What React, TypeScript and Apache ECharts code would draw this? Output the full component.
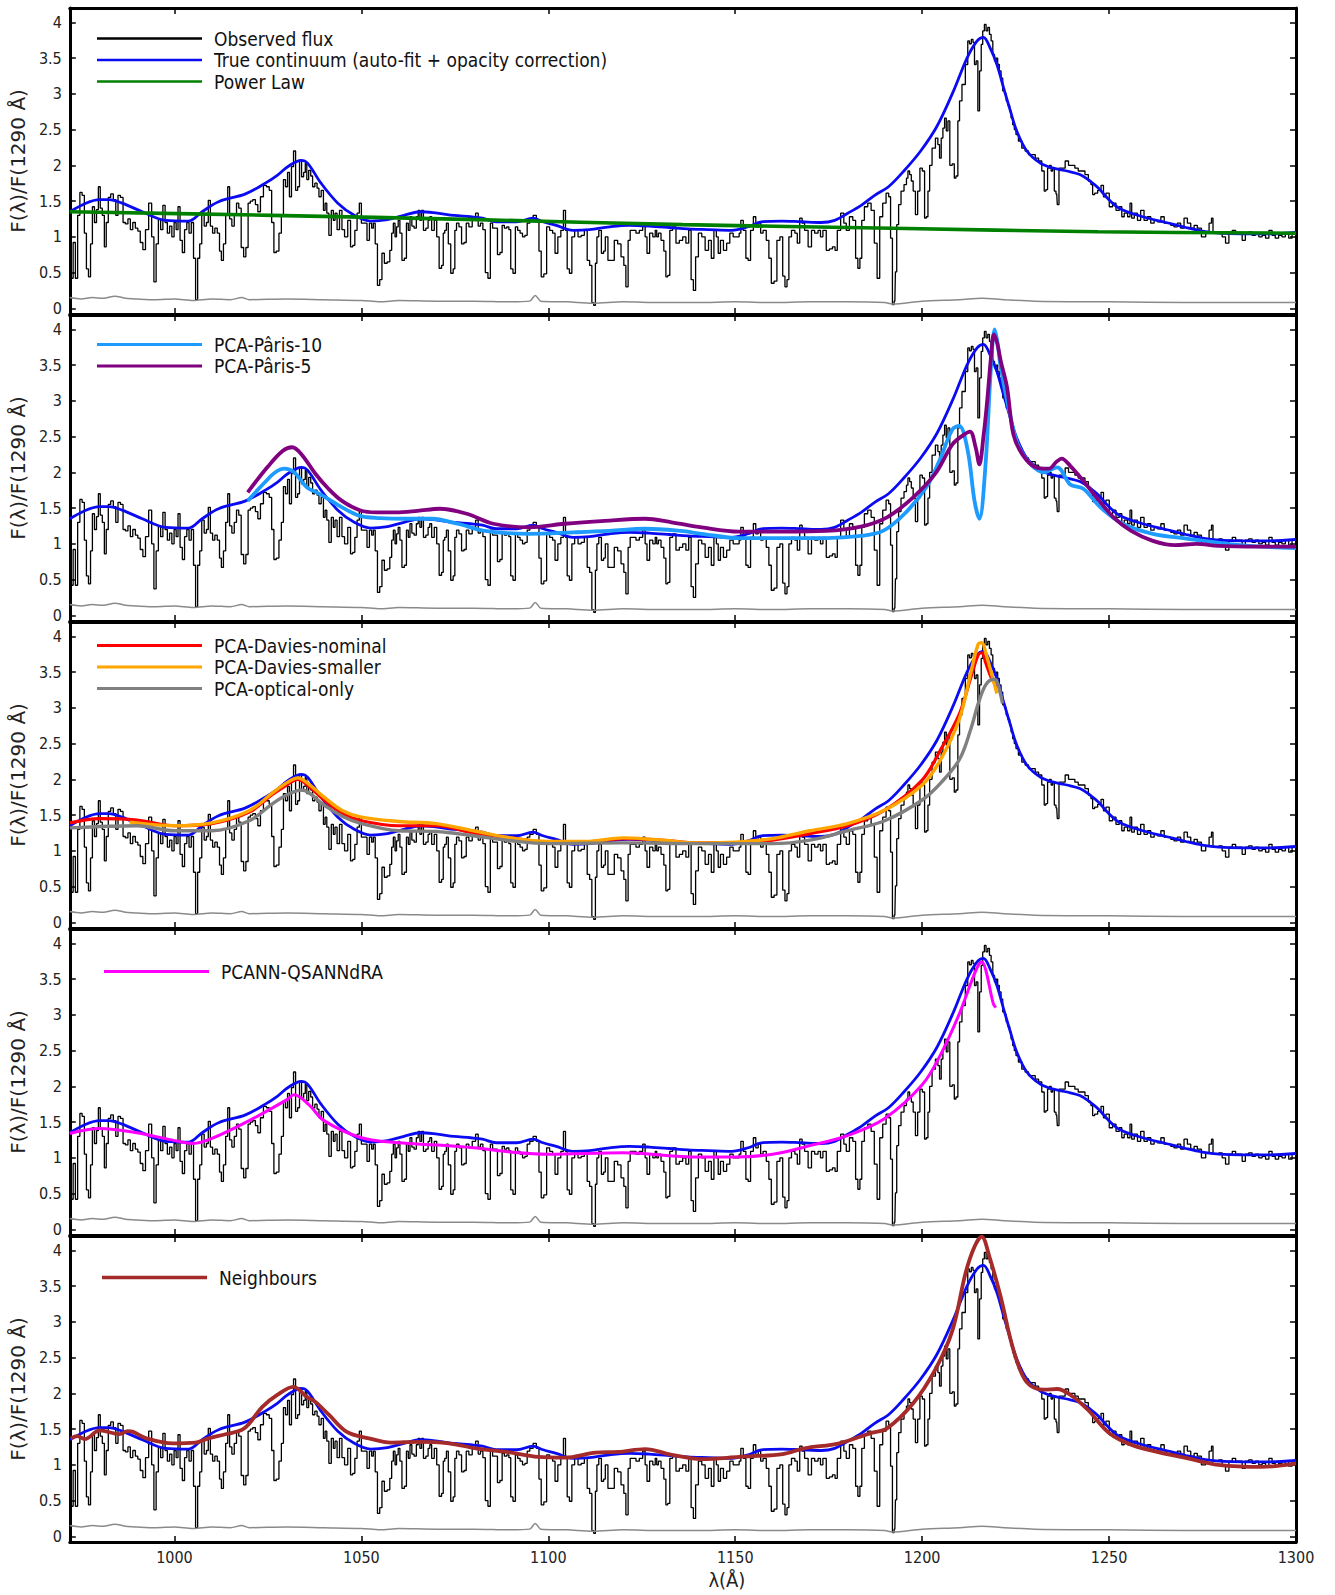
import React, { useEffect, useRef } from "react";
import * as echarts from "echarts";

// ---------- axis settings ----------
const X_MIN = 972;
const X_MAX = 1300;
const X_TICKS = [1000, 1050, 1100, 1150, 1200, 1250, 1300];
const Y_MIN = -0.08;
const Y_MAX = 4.2;
const Y_TICKS = [0, 0.5, 1, 1.5, 2, 2.5, 3, 3.5, 4];
const Y_TITLE = "F(λ)/F(1290 Å)";
const X_TITLE = "λ(Å)";

// ---------- data: [wavelength (Å), normalised flux] ----------
const observedFlux: [number, number][] = [
  [972.0, 0.82], [972.6, 0.42], [973.2, 0.92], [973.8, 0.42], [974.4, 1.3], [975.0, 1.62], [975.6, 1.58], [976.2, 1.05],
  [976.7, 0.55], [977.3, 0.44], [977.8, 0.9], [978.3, 1.42], [978.9, 1.2], [979.4, 1.38], [979.9, 1.7], [980.4, 1.4],
  [981.0, 1.3], [981.5, 0.86], [982.0, 1.2], [982.6, 1.55], [983.3, 1.6], [984.0, 1.52], [984.6, 1.3], [985.2, 1.58],
  [985.9, 1.55], [986.6, 1.2], [987.2, 1.18], [987.9, 1.25], [988.5, 1.1], [989.2, 1.2], [989.9, 1.12], [990.5, 1.08],
  [991.2, 0.92], [991.9, 0.82], [992.6, 1.1], [993.6, 1.47], [994.2, 1.0], [994.8, 0.37], [995.4, 0.9], [996.0, 1.25],
  [996.6, 1.1], [997.2, 1.44], [997.8, 1.2], [998.4, 1.05], [999.0, 1.15], [999.6, 1.0], [1000.2, 1.2], [1000.7, 1.1],
  [1001.2, 1.42], [1001.8, 0.95], [1002.4, 0.78], [1003.0, 1.1], [1003.6, 1.2], [1004.2, 1.05], [1004.8, 1.2], [1005.4, 0.7],
  [1005.9, 0.12], [1006.5, 0.7], [1007.0, 0.9], [1007.6, 1.33], [1008.3, 1.15], [1008.8, 1.2], [1009.3, 1.51], [1009.9, 1.15],
  [1010.5, 1.05], [1011.1, 1.12], [1011.8, 1.05], [1012.3, 0.8], [1012.8, 0.67], [1013.4, 0.9], [1014.0, 1.3], [1014.5, 1.7],
  [1015.0, 1.25], [1015.7, 1.15], [1016.3, 1.3], [1016.9, 1.47], [1017.5, 1.4], [1018.2, 0.85], [1018.8, 0.72], [1019.4, 0.85],
  [1020.0, 1.47], [1020.6, 1.5], [1021.3, 1.52], [1022.0, 1.45], [1022.6, 1.35], [1023.4, 1.56], [1024.2, 1.72], [1025.0, 1.7],
  [1025.7, 1.65], [1026.3, 1.2], [1026.9, 0.78], [1027.6, 0.8], [1028.3, 1.05], [1028.9, 1.3], [1029.4, 1.8], [1030.0, 1.7],
  [1030.5, 1.9], [1031.0, 1.56], [1031.6, 1.98], [1032.1, 2.2], [1032.7, 1.65], [1033.2, 1.7], [1033.7, 2.07], [1034.3, 1.84],
  [1034.8, 1.9], [1035.2, 2.03], [1035.6, 1.8], [1036.2, 1.93], [1036.7, 1.85], [1037.2, 1.7], [1037.9, 1.75], [1038.4, 1.68],
  [1038.9, 1.56], [1039.6, 1.65], [1040.1, 1.37], [1040.5, 1.47], [1041.0, 1.33], [1041.6, 1.02], [1042.3, 1.37], [1042.7, 1.23],
  [1043.2, 1.33], [1043.8, 1.1], [1044.5, 1.37], [1045.1, 1.1], [1045.9, 1.0], [1046.8, 1.23], [1047.4, 0.86], [1048.0, 0.88],
  [1048.5, 1.09], [1049.2, 1.33], [1049.7, 1.47], [1050.3, 1.19], [1051.2, 1.19], [1051.8, 0.95], [1052.5, 1.19], [1053.0, 1.12],
  [1053.4, 1.19], [1054.0, 0.9], [1054.6, 0.32], [1055.2, 0.4], [1055.8, 0.77], [1056.5, 0.63], [1057.3, 0.65], [1057.9, 0.81],
  [1058.3, 1.05], [1058.8, 1.19], [1059.2, 1.0], [1059.6, 1.14], [1060.1, 1.23], [1060.5, 1.05], [1061.2, 0.67], [1061.8, 0.7],
  [1062.3, 1.19], [1062.8, 1.09], [1063.2, 1.28], [1063.8, 1.15], [1064.4, 1.12], [1065.0, 1.28], [1065.4, 1.37], [1065.9, 1.23],
  [1066.3, 1.37], [1066.9, 1.09], [1067.6, 1.12], [1068.1, 1.23], [1068.5, 1.28], [1069.1, 1.09], [1069.9, 1.23], [1070.4, 1.0],
  [1071.2, 0.56], [1071.7, 0.6], [1072.1, 1.05], [1072.5, 1.09], [1073.0, 1.19], [1073.5, 0.9], [1074.3, 0.49], [1074.8, 0.55],
  [1075.2, 1.09], [1075.7, 1.19], [1076.5, 1.14], [1077.1, 0.9], [1077.8, 0.92], [1078.3, 1.19], [1079.2, 1.14], [1080.1, 1.23],
  [1081.0, 1.33], [1081.5, 1.15], [1082.2, 1.19], [1082.8, 1.1], [1083.5, 0.5], [1084.2, 0.42], [1084.8, 1.19], [1085.4, 1.12],
  [1086.1, 1.12], [1086.7, 0.75], [1087.4, 0.78], [1087.9, 1.16], [1088.6, 1.12], [1089.2, 1.14], [1089.7, 1.1], [1090.2, 0.55],
  [1090.9, 0.49], [1091.5, 1.14], [1092.1, 1.09], [1092.8, 1.05], [1093.4, 1.0], [1094.1, 1.02], [1094.6, 1.19], [1095.5, 1.23],
  [1096.4, 1.3], [1097.2, 1.23], [1097.8, 0.8], [1098.4, 0.44], [1099.2, 0.48], [1099.9, 1.14], [1100.8, 1.09], [1101.5, 1.05],
  [1102.1, 0.77], [1103.0, 1.0], [1103.7, 1.09], [1104.4, 1.37], [1104.8, 1.09], [1105.3, 0.55], [1106.0, 0.49], [1106.6, 1.0],
  [1107.5, 1.09], [1108.4, 1.0], [1109.2, 1.02], [1110.1, 1.09], [1110.7, 0.67], [1111.4, 0.6], [1111.9, 0.08], [1112.4, 0.04],
  [1112.8, 0.63], [1113.2, 1.0], [1113.8, 1.09], [1114.6, 0.77], [1115.0, 0.8], [1115.5, 1.0], [1116.4, 0.67], [1117.2, 0.67],
  [1118.1, 0.95], [1119.0, 0.9], [1119.9, 0.72], [1120.5, 0.6], [1121.0, 0.3], [1121.7, 0.95], [1122.1, 1.09], [1123.0, 1.09],
  [1123.9, 1.05], [1124.8, 1.09], [1125.7, 1.19], [1126.1, 1.0], [1126.7, 0.77], [1127.5, 1.05], [1128.4, 1.0], [1128.8, 1.09],
  [1129.2, 1.0], [1129.7, 1.05], [1130.6, 0.95], [1131.2, 0.8], [1131.7, 0.44], [1132.2, 0.46], [1132.8, 1.09], [1133.7, 1.14],
  [1134.6, 0.91], [1135.5, 0.95], [1136.4, 1.0], [1137.2, 0.91], [1137.9, 1.09], [1138.5, 0.4], [1139.1, 0.25], [1139.7, 0.72],
  [1140.6, 1.05], [1141.5, 1.0], [1142.4, 0.81], [1143.3, 0.95], [1143.9, 0.7], [1144.7, 1.09], [1145.2, 1.0], [1145.7, 0.77],
  [1146.4, 0.95], [1147.3, 0.81], [1148.1, 0.91], [1149.0, 1.05], [1149.9, 1.0], [1150.8, 1.0], [1151.3, 1.05], [1151.7, 1.23],
  [1152.6, 1.09], [1153.1, 0.7], [1153.8, 0.67], [1154.4, 1.09], [1155.3, 1.28], [1155.7, 1.14], [1156.6, 1.19], [1157.0, 1.05],
  [1157.9, 1.09], [1158.7, 0.95], [1159.3, 0.7], [1160.0, 0.35], [1160.8, 0.38], [1161.5, 0.95], [1162.4, 1.0], [1163.0, 0.45],
  [1163.6, 0.3], [1164.1, 0.4], [1164.6, 1.0], [1165.5, 1.09], [1166.4, 1.05], [1166.8, 0.91], [1167.7, 1.26], [1168.1, 1.19],
  [1169.0, 1.09], [1170.0, 0.86], [1170.8, 1.09], [1171.7, 1.05], [1172.6, 1.09], [1173.0, 1.0], [1173.9, 1.09], [1174.8, 0.81],
  [1175.6, 0.83], [1176.4, 0.86], [1177.0, 0.81], [1177.6, 1.09], [1178.8, 1.33], [1179.3, 1.19], [1180.1, 1.09], [1181.0, 1.28],
  [1181.9, 1.23], [1182.5, 0.7], [1183.1, 0.56], [1183.6, 0.7], [1184.1, 1.23], [1185.0, 1.42], [1185.9, 1.47], [1186.8, 1.37],
  [1187.6, 0.91], [1188.3, 0.42], [1189.0, 1.28], [1189.9, 1.47], [1190.8, 1.61], [1191.3, 1.56], [1191.8, 0.98], [1192.3, 0.05],
  [1192.7, 0.1], [1193.0, 0.51], [1193.4, 1.17], [1194.0, 1.45], [1194.7, 1.64], [1195.6, 1.73], [1196.0, 1.82], [1196.4, 1.92],
  [1196.9, 1.87], [1197.3, 1.78], [1197.9, 1.64], [1198.5, 1.31], [1199.1, 1.64], [1199.7, 1.96], [1200.4, 1.92], [1200.9, 1.26],
  [1201.3, 1.28], [1201.8, 1.64], [1202.2, 2.0], [1203.1, 2.24], [1204.0, 2.38], [1204.4, 2.29], [1204.9, 2.1], [1205.3, 2.38],
  [1205.8, 2.52], [1206.2, 2.66], [1206.7, 2.48], [1207.1, 2.62], [1207.7, 2.0], [1208.4, 2.02], [1208.8, 1.82], [1209.3, 1.85],
  [1209.8, 2.62], [1210.2, 2.9], [1211.1, 3.13], [1212.0, 3.41], [1212.4, 3.74], [1212.9, 3.7], [1213.4, 3.76], [1213.8, 3.72],
  [1214.2, 3.41], [1214.7, 3.46], [1215.1, 2.76], [1215.6, 3.32], [1216.0, 3.69], [1216.4, 3.88], [1216.9, 3.97], [1217.3, 3.88],
  [1217.8, 3.93], [1218.2, 3.83], [1218.7, 3.74], [1219.1, 3.55], [1219.6, 3.46], [1220.0, 3.5], [1220.4, 3.41], [1220.9, 3.32],
  [1221.3, 3.22], [1221.8, 3.04], [1222.3, 3.0], [1222.7, 2.9], [1223.2, 2.84], [1223.6, 2.76], [1224.0, 2.66], [1224.4, 2.57],
  [1224.9, 2.5], [1225.3, 2.43], [1226.2, 2.34], [1227.1, 2.24], [1228.0, 2.2], [1228.9, 2.15], [1229.8, 2.15], [1230.7, 2.1],
  [1231.6, 2.06], [1232.4, 1.92], [1232.9, 1.64], [1233.3, 1.66], [1233.8, 1.96], [1234.3, 2.0], [1234.7, 1.92], [1235.1, 1.96],
  [1235.6, 1.64], [1236.0, 1.6], [1236.3, 1.45], [1236.9, 1.96], [1237.8, 1.96], [1238.7, 2.06], [1239.6, 2.0], [1240.4, 2.0],
  [1241.3, 1.96], [1242.2, 1.92], [1243.1, 1.92], [1244.0, 1.87], [1244.9, 1.78], [1245.4, 1.73], [1245.8, 1.59], [1246.5, 1.61],
  [1247.4, 1.65], [1248.3, 1.72], [1248.7, 1.56], [1249.6, 1.61], [1250.5, 1.42], [1251.4, 1.47], [1252.3, 1.37], [1253.2, 1.42],
  [1253.6, 1.28], [1254.5, 1.33], [1255.4, 1.28], [1255.8, 1.47], [1256.3, 1.26], [1257.2, 1.33], [1258.0, 1.23], [1258.9, 1.37],
  [1259.8, 1.23], [1260.7, 1.28], [1261.6, 1.19], [1262.5, 1.23], [1263.4, 1.21], [1264.3, 1.28], [1265.2, 1.19], [1266.1, 1.19],
  [1266.9, 1.16], [1267.8, 1.14], [1268.7, 1.19], [1269.6, 1.12], [1270.5, 1.26], [1271.4, 1.19], [1272.3, 1.12], [1273.2, 1.16],
  [1274.0, 1.12], [1275.4, 1.0], [1276.3, 1.07], [1277.2, 1.19], [1277.6, 1.26], [1278.0, 1.05], [1278.9, 1.05], [1279.8, 1.07],
  [1280.7, 1.0], [1281.6, 0.91], [1282.5, 1.05], [1283.4, 1.09], [1284.3, 1.05], [1285.2, 1.05], [1286.0, 0.95], [1286.9, 1.05],
  [1287.8, 1.07], [1288.7, 1.02], [1289.6, 1.05], [1290.5, 1.0], [1291.4, 1.02], [1292.3, 0.98], [1293.2, 1.09], [1294.0, 1.02],
  [1294.9, 0.98], [1295.8, 1.02], [1296.7, 1.0], [1297.6, 1.05], [1298.5, 0.98], [1299.4, 1.05], [1300.0, 1.07],
];

const trueContinuum: [number, number][] = [
  [972, 1.35], [976.3, 1.47], [980, 1.52], [982.5, 1.52], [986, 1.47], [991.4, 1.35], [997.6, 1.23], [1003.8, 1.22],
  [1007.4, 1.35], [1011.8, 1.49], [1019, 1.6], [1024.3, 1.75], [1027.5, 1.86], [1030.3, 1.98], [1033.9, 2.07], [1035.6, 2.03],
  [1039.2, 1.75], [1043.7, 1.47], [1048.1, 1.3], [1052.5, 1.22], [1057, 1.24], [1061.4, 1.3], [1065.9, 1.35], [1070.3, 1.33],
  [1074.8, 1.3], [1079.2, 1.28], [1082.4, 1.26], [1086.1, 1.21], [1091.5, 1.21], [1095.9, 1.26], [1098.6, 1.21], [1102.1, 1.16],
  [1106.6, 1.09], [1111, 1.1], [1116.4, 1.14], [1121.7, 1.16], [1127, 1.15], [1132.4, 1.13], [1137.3, 1.11], [1142.8, 1.1],
  [1149, 1.09], [1153.5, 1.14], [1157, 1.21], [1162.4, 1.22], [1167.7, 1.21], [1173, 1.2], [1176.6, 1.23], [1180.1, 1.33],
  [1183.7, 1.44], [1187.3, 1.58], [1191, 1.7], [1195.1, 1.92], [1199.6, 2.2], [1204, 2.55], [1208.4, 3.04], [1212, 3.5],
  [1214.7, 3.74], [1216.4, 3.79], [1218.2, 3.64], [1220, 3.41], [1221.8, 3.08], [1223.6, 2.76], [1225.3, 2.48], [1228, 2.2],
  [1231.6, 2.03], [1235.1, 1.96], [1238.7, 1.92], [1242.2, 1.87], [1244.9, 1.78], [1247.2, 1.68], [1249.2, 1.56], [1252.7, 1.4],
  [1259, 1.28], [1265.2, 1.2], [1270.5, 1.13], [1274.9, 1.08], [1279.4, 1.05], [1285.6, 1.04], [1291.8, 1.04], [1300, 1.06],
];

const fluxError: [number, number][] = [
  [972, 0.15], [975, 0.13], [978, 0.15], [981, 0.14], [984, 0.17], [987, 0.14], [990, 0.13], [995, 0.12], [1000, 0.13],
  [1005, 0.11], [1010, 0.13], [1015, 0.12], [1018, 0.15], [1020, 0.12], [1030, 0.13], [1040, 0.12], [1050, 0.11], [1055, 0.09],
  [1060, 0.11], [1070, 0.1], [1080, 0.1], [1090, 0.09], [1095, 0.1], [1096.5, 0.18], [1098, 0.1], [1105, 0.09], [1112, 0.07],
  [1120, 0.09], [1130, 0.08], [1140, 0.08], [1150, 0.09], [1160, 0.08], [1170, 0.09], [1180, 0.09], [1190, 0.08], [1192, 0.06],
  [1200, 0.1], [1210, 0.12], [1216, 0.14], [1222, 0.12], [1230, 0.1], [1250, 0.09], [1270, 0.08], [1300, 0.08],
];

const powerLaw: [number, number][] = [
  [972, 1.35], [1026, 1.3], [1081, 1.24], [1136, 1.17], [1192, 1.12], [1247, 1.07], [1300, 1.05],
];

const parisPca10: [number, number][] = [
  [1019.6, 1.6], [1024, 1.85], [1027, 2.0], [1029.4, 2.05], [1032, 2.0], [1035.4, 1.79], [1038, 1.72], [1040.4, 1.65],
  [1044.8, 1.51], [1049.6, 1.39], [1055, 1.36], [1061.5, 1.35], [1068.7, 1.35], [1075.8, 1.28], [1083, 1.18], [1094.9, 1.14],
  [1106.8, 1.16], [1116.3, 1.18], [1125.9, 1.21], [1135.4, 1.18], [1141, 1.14], [1151, 1.08], [1162.7, 1.08], [1174.3, 1.08],
  [1183.6, 1.11], [1189.5, 1.18], [1195.3, 1.42], [1201.1, 1.79], [1204.6, 2.16], [1208.1, 2.6], [1209.9, 2.65], [1212.2, 2.3],
  [1214, 1.6], [1215.3, 1.35], [1216.9, 2.07], [1218.4, 3.47], [1219.4, 4.0], [1220.2, 3.8], [1221, 3.47], [1223.3, 2.86],
  [1225.6, 2.39], [1229.1, 2.11], [1232.6, 2.0], [1236.1, 2.07], [1239.6, 1.83], [1243.1, 1.77], [1247.7, 1.51], [1253.6, 1.28],
  [1261.7, 1.14], [1271.1, 1.07], [1281.5, 1.0], [1290.9, 0.96], [1300, 0.94],
];

const parisPca5: [number, number][] = [
  [1019.6, 1.72], [1025, 2.08], [1029, 2.3], [1031.5, 2.35], [1034, 2.25], [1037.7, 1.98], [1041, 1.78], [1044.8, 1.6],
  [1049.6, 1.47], [1054, 1.44], [1059.2, 1.44], [1065, 1.46], [1071, 1.49], [1078.2, 1.42], [1085.3, 1.28], [1094.9, 1.23],
  [1104.4, 1.28], [1115.1, 1.32], [1125.9, 1.35], [1133, 1.3], [1141, 1.23], [1151, 1.17], [1162.7, 1.17], [1174.3, 1.18],
  [1183.6, 1.24], [1190.6, 1.37], [1197.6, 1.65], [1203.5, 1.98], [1208.1, 2.39], [1211, 2.52], [1212.8, 2.57], [1214.3, 2.35],
  [1215.3, 2.11], [1216.4, 2.5], [1217.4, 3.0], [1218.4, 3.6], [1219.2, 3.93], [1220.1, 3.8], [1221, 3.56], [1222.7, 3.19],
  [1224.4, 2.53], [1226.8, 2.25], [1230.3, 2.07], [1233.8, 2.05], [1236, 2.15], [1237.3, 2.19], [1239.6, 2.09], [1243.1, 1.88],
  [1246.6, 1.65], [1251.2, 1.37], [1255.9, 1.18], [1261.7, 1.04], [1267.6, 0.98], [1273.4, 1.0], [1279.2, 0.97], [1290, 0.96],
  [1300, 0.96],
];

const daviesNominal: [number, number][] = [
  [972, 1.39], [980, 1.45], [990, 1.43], [1000, 1.35], [1010, 1.38], [1020, 1.54], [1026, 1.78], [1030, 1.92], [1033, 2.0],
  [1036, 1.9], [1040, 1.71], [1045, 1.52], [1050, 1.42], [1060, 1.35], [1070, 1.35], [1080, 1.25], [1090, 1.18], [1100, 1.12],
  [1110, 1.12], [1120, 1.17], [1130, 1.15], [1140, 1.11], [1150, 1.11], [1160, 1.15], [1170, 1.24], [1180, 1.35], [1190, 1.57],
  [1200, 1.99], [1205, 2.42], [1210, 2.92], [1213, 3.42], [1215, 3.74], [1216, 3.77], [1217, 3.63], [1218.5, 3.42], [1220, 3.3],
];

const daviesSmaller: [number, number][] = [
  [988, 1.4], [1000, 1.35], [1010, 1.39], [1020, 1.56], [1026, 1.8], [1030, 1.95], [1033, 2.02], [1036, 1.93], [1040, 1.75],
  [1045, 1.56], [1050, 1.47], [1060, 1.41], [1070, 1.38], [1080, 1.28], [1090, 1.18], [1100, 1.13], [1110, 1.13], [1120, 1.18],
  [1130, 1.15], [1140, 1.11], [1150, 1.12], [1160, 1.17], [1170, 1.28], [1180, 1.38], [1190, 1.57], [1200, 1.92], [1205, 2.28],
  [1210, 2.85], [1213, 3.49], [1215, 3.89], [1216, 3.91], [1217, 3.77], [1218.5, 3.49], [1220, 3.2],
];

const opticalOnly: [number, number][] = [
  [972, 1.32], [990, 1.35], [1000, 1.28], [1010, 1.28], [1020, 1.42], [1026, 1.65], [1030, 1.78], [1034, 1.85], [1040, 1.64],
  [1045, 1.48], [1050, 1.38], [1060, 1.28], [1070, 1.27], [1080, 1.21], [1090, 1.14], [1100, 1.1], [1120, 1.11], [1140, 1.1],
  [1160, 1.1], [1170, 1.15], [1180, 1.28], [1190, 1.42], [1200, 1.71], [1205, 1.95], [1210, 2.28], [1213, 2.7], [1215, 3.06],
  [1217, 3.32], [1219, 3.4], [1220, 3.37], [1221.5, 3.06],
];

const qsanndra: [number, number][] = [
  [972, 1.34], [980, 1.41], [990, 1.35], [1000, 1.24], [1005, 1.2], [1010, 1.27], [1020, 1.52], [1030, 1.81], [1032, 1.88],
  [1036, 1.74], [1040, 1.52], [1050, 1.28], [1060, 1.21], [1070, 1.18], [1080, 1.14], [1090, 1.08], [1100, 1.05], [1120, 1.07],
  [1140, 1.01], [1150, 1.01], [1160, 1.05], [1170, 1.17], [1180, 1.31], [1190, 1.55], [1200, 2.02], [1205, 2.45], [1210, 3.02],
  [1213, 3.44], [1215, 3.69], [1216, 3.74], [1217, 3.63], [1219, 3.16], [1219.7, 3.1],
];

const neighbours: [number, number][] = [
  [972.3, 1.37], [974, 1.4], [976, 1.36], [980, 1.48], [985.3, 1.43], [987.5, 1.47], [988.9, 1.46], [992.5, 1.37],
  [999.6, 1.3], [1005.6, 1.31], [1009.1, 1.37], [1013.9, 1.43], [1018.7, 1.51], [1023.5, 1.81], [1027.6, 1.98], [1031.8, 2.09],
  [1035.4, 1.95], [1037.7, 1.88], [1041.3, 1.7], [1046.1, 1.46], [1052, 1.37], [1057.9, 1.31], [1065.1, 1.32], [1073.4, 1.3],
  [1080.6, 1.23], [1088.9, 1.18], [1097.3, 1.11], [1104.4, 1.1], [1112.7, 1.17], [1118.7, 1.18], [1125.9, 1.22], [1133, 1.14],
  [1141, 1.08], [1151, 1.11], [1162.7, 1.15], [1168.5, 1.23], [1177.8, 1.3], [1186, 1.44], [1190.6, 1.51], [1197.6, 1.86],
  [1203.5, 2.33], [1208.1, 2.88], [1211.6, 3.68], [1214, 4.05], [1215.9, 4.19], [1218, 3.91], [1221, 3.35], [1224.4, 2.61],
  [1227.9, 2.16], [1232.6, 2.05], [1236.1, 2.06], [1239.6, 1.98], [1244.3, 1.77], [1250.1, 1.44], [1255.9, 1.28],
  [1262.9, 1.18], [1271.1, 1.09], [1279.2, 1.0], [1290.9, 0.97], [1300, 1.02],
];

// ---------- panel definitions ----------
const OBS_NAME = "Observed flux";
const CONT_NAME = "True continuum (auto-fit + opacity correction)";

type Model = { name: string; data: [number, number][]; color: string; width: number };
const panelModels: Model[][] = [
  [{ name: "Power Law", data: powerLaw, color: "#008000", width: 3.6 }],
  [
    { name: "PCA-Pâris-10", data: parisPca10, color: "#1e9bff", width: 3.8 },
    { name: "PCA-Pâris-5", data: parisPca5, color: "#800080", width: 3.8 },
  ],
  [
    { name: "PCA-Davies-nominal", data: daviesNominal, color: "#ff0000", width: 3.2 },
    { name: "PCA-Davies-smaller", data: daviesSmaller, color: "#ffa500", width: 3.4 },
    { name: "PCA-optical-only", data: opticalOnly, color: "#808080", width: 3.4 },
  ],
  [{ name: "PCANN-QSANNdRA", data: qsanndra, color: "#ff00ff", width: 3.0 }],
  [{ name: "Neighbours", data: neighbours, color: "#a52a2a", width: 3.8 }],
];
const legendNames: string[][] = [
  [OBS_NAME, CONT_NAME, "Power Law"],
  ["PCA-Pâris-10", "PCA-Pâris-5"],
  ["PCA-Davies-nominal", "PCA-Davies-smaller", "PCA-optical-only"],
  ["PCANN-QSANNdRA"],
  ["Neighbours"],
];

// ---------- layout ----------
const W = 1335;
const H = 1595;
const GRID_LEFT = 66;
const GRID_W = 1230;
const PANEL_TOP = 8;
const PANEL_STEP = 307;
const PANEL_H = 306;
const LEGEND_POS = [
  { left: 97, top: 28, lineH: 2.6 },
  { left: 97, top: 334, lineH: 3.2 },
  { left: 97, top: 635, lineH: 3 },
  { left: 104, top: 961, lineH: 2.8 },
  { left: 102, top: 1267, lineH: 3.6 },
];
const FONT_C = "'DejaVu Sans Condensed', 'DejaVu Sans', sans-serif";
const FONT = "'DejaVu Sans', sans-serif";
const BLUE = "#0b0bf2";

function buildOption() {
  const n = 5;
  const grids: any[] = [];
  const xAxes: any[] = [];
  const yAxes: any[] = [];
  const series: any[] = [];
  const legends: any[] = [];

  for (let i = 0; i < n; i++) {
    const last = i === n - 1;
    grids.push({ left: GRID_LEFT, width: GRID_W, top: PANEL_TOP + i * PANEL_STEP, height: PANEL_H, containLabel: false });
    const frame = { show: true, onZero: false, lineStyle: { color: "#000", width: 3 } };
    const tick = (vals: number[]) => ({ show: true, inside: true, length: 6, customValues: vals, lineStyle: { color: "#000", width: 1.5 } });
    xAxes.push({
      type: "value", gridIndex: i, position: "bottom", min: X_MIN, max: X_MAX,
      axisLine: frame, axisTick: tick(X_TICKS), splitLine: { show: false },
      axisLabel: { show: last, customValues: X_TICKS, margin: 7, fontSize: 16, fontFamily: FONT_C, color: "#222", formatter: (v: number) => String(v) },
      name: last ? X_TITLE : "", nameLocation: "middle", nameGap: 28,
      nameTextStyle: { fontSize: 20, fontFamily: FONT_C, color: "#222", padding: [0, 0, 0, 88] },
    });
    xAxes.push({
      type: "value", gridIndex: i, position: "top", min: X_MIN, max: X_MAX,
      axisLine: frame, axisTick: tick(X_TICKS), splitLine: { show: false }, axisLabel: { show: false },
    });
    yAxes.push({
      type: "value", gridIndex: i, position: "left", min: Y_MIN, max: Y_MAX,
      axisLine: frame, axisTick: tick(Y_TICKS), splitLine: { show: false },
      axisLabel: { show: true, customValues: Y_TICKS, margin: 8, fontSize: 16, fontFamily: FONT_C, color: "#222", formatter: (v: number) => String(v) },
      name: Y_TITLE, nameLocation: "middle", nameRotate: 90, nameGap: 36,
      nameTextStyle: { fontSize: 20, fontFamily: FONT, color: "#222" },
    });
    yAxes.push({
      type: "value", gridIndex: i, position: "right", min: Y_MIN, max: Y_MAX,
      axisLine: frame, axisTick: tick(Y_TICKS), splitLine: { show: false }, axisLabel: { show: false },
    });

    const xi = 2 * i;
    const yi = 2 * i;
    series.push({
      name: OBS_NAME, type: "line", xAxisIndex: xi, yAxisIndex: yi, data: observedFlux, step: "middle",
      symbol: "none", showSymbol: false, lineStyle: { color: "#000", width: 1.3 }, itemStyle: { color: "#000" }, z: 2,
    });
    series.push({
      name: "Flux error", type: "line", xAxisIndex: xi, yAxisIndex: yi, data: fluxError, smooth: 0.3,
      symbol: "none", showSymbol: false, lineStyle: { color: "#8a8a8a", width: 1.5 }, itemStyle: { color: "#8a8a8a" }, z: 2,
    });
    series.push({
      name: CONT_NAME, type: "line", xAxisIndex: xi, yAxisIndex: yi, data: trueContinuum, smooth: 0.35,
      symbol: "none", showSymbol: false, lineStyle: { color: BLUE, width: 2.8 }, itemStyle: { color: BLUE }, z: 3,
    });
    panelModels[i].forEach((m, k) => {
      series.push({
        name: m.name, type: "line", xAxisIndex: xi, yAxisIndex: yi, data: m.data, smooth: 0.35,
        symbol: "none", showSymbol: false, lineStyle: { color: m.color, width: m.width }, itemStyle: { color: m.color }, z: 4 + k,
      });
    });

    legends.push({
      show: true, orient: "vertical", left: LEGEND_POS[i].left, top: LEGEND_POS[i].top, padding: 0,
      icon: "rect", itemWidth: 105, itemHeight: LEGEND_POS[i].lineH, itemGap: 0.5, selectedMode: false,
      textStyle: { fontSize: 19, fontFamily: FONT_C, color: "#111", lineHeight: 21, padding: [0, 0, 0, 7] },
      data: legendNames[i],
    });
  }

  return {
    animation: false,
    backgroundColor: "#fff",
    grid: grids,
    xAxis: xAxes,
    yAxis: yAxes,
    legend: legends,
    series,
  };
}

export default function App() {
  const ref = useRef<HTMLDivElement>(null);
  useEffect(() => {
    document.body.style.margin = "0";
    if (!ref.current) return;
    const chart = echarts.init(ref.current, null, { renderer: "svg" });
    chart.setOption(buildOption());
    return () => chart.dispose();
  }, []);
  return <div ref={ref} style={{ position: "absolute", left: 0, top: 0, width: W, height: H, background: "#fff" }} />;
}
